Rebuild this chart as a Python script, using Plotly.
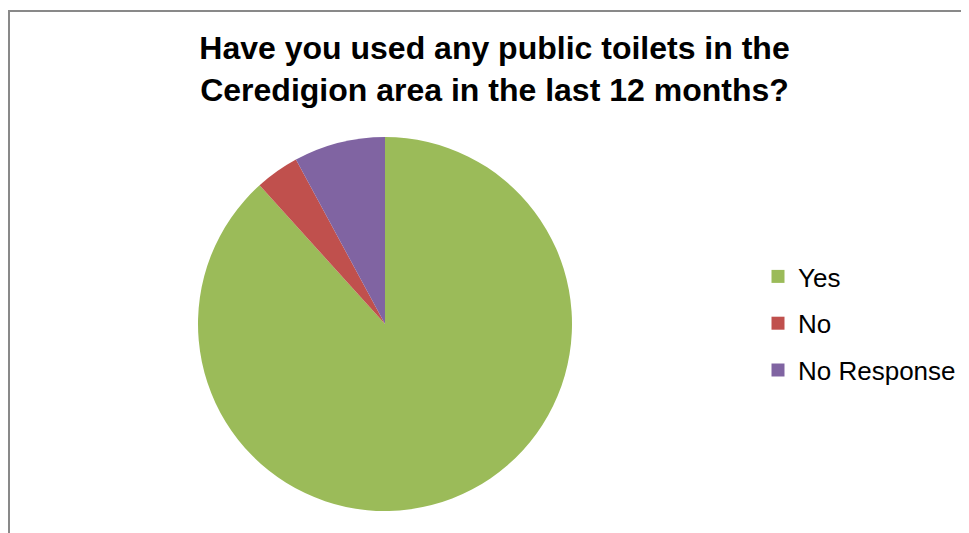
import plotly.graph_objects as go

labels = ["Yes", "No", "No Response"]
values = [88.3, 3.8, 7.9]
colors = ["#9BBB59", "#C0504D", "#8064A2"]
title_lines = ["Have you used any public toilets in the",
               "Ceredigion area in the last 12 months?"]

W, H = 969, 533
OFF = 8  # page body margin offset
FONT = "Liberation Sans, Arial, sans-serif"

fig = go.Figure()
fig.add_trace(go.Pie(
    labels=labels, values=values, sort=False, direction="clockwise", rotation=0,
    marker=dict(colors=colors, line=dict(width=0)),
    textinfo="none", hoverinfo="label+percent", showlegend=False,
    domain=dict(x=[(198 - OFF) / W, (572 - OFF) / W],
                y=[1 - (511 - OFF) / H, 1 - (137 - OFF) / H]),
))
for i, (lab, col) in enumerate(zip(labels, colors)):
    fig.add_trace(go.Scatter(
        x=[None], y=[None], mode="markers", name=lab,
        marker=dict(symbol="square", size=13, color=col),
        legendgroup=f"g{i}", showlegend=True,
    ))

fig.update_layout(
    width=W, height=H,
    margin=dict(l=0, r=0, t=0, b=0),
    paper_bgcolor="white", plot_bgcolor="white",
    font=dict(family=FONT, color="black"),
    title=dict(text="<br>".join("<b>" + t + "</b>" for t in title_lines),
               x=(494.5 - OFF) / W, xanchor="center", y=1 - 51 / H, yanchor="top",
               font=dict(size=32, family=FONT, color="black")),
    xaxis=dict(visible=False), yaxis=dict(visible=False),
    legend=dict(x=(758 - OFF) / W, xanchor="left", y=1 - (253 - OFF) / H, yanchor="top",
                font=dict(size=26, family=FONT, color="black"), tracegroupgap=10, itemwidth=30,
                bgcolor="rgba(0,0,0,0)"),
    shapes=[dict(type="rect", xref="paper", yref="paper",
                 x0=1 / W, x1=1.02, y0=-0.02, y1=1 - 3 / H,
                 line=dict(color="#898989", width=2), layer="below")],
)
fig.write_html("out.html")
